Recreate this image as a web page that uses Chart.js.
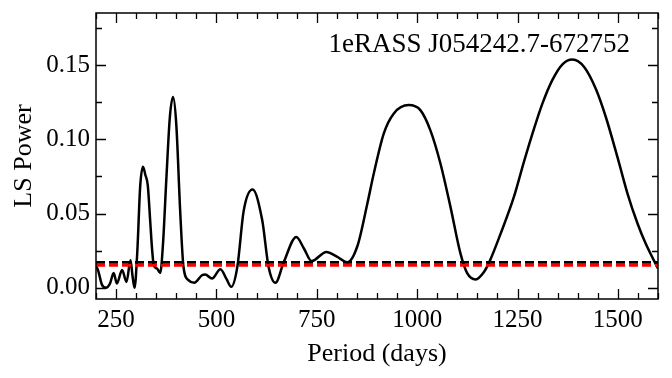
<!DOCTYPE html>
<html>
<head>
<meta charset="utf-8">
<script src="https://cdn.jsdelivr.net/npm/chart.js@4.4.1/dist/chart.umd.min.js"></script>
<style>
  html, body { margin: 0; padding: 0; background: #fff; }
  #wrap { width: 672px; height: 378px; }
</style>
</head>
<body>
<div id="wrap"><canvas id="lsChart" width="672" height="378"></canvas></div>
<script>
// periodogram
const periods = [200, 205, 215, 225, 235, 244, 252, 265, 276, 286, 291, 296, 303, 310, 317, 323, 329, 335, 340, 344,
  352, 360, 367, 375, 384, 392, 400, 410, 418, 431, 445, 464, 472, 489, 510, 525, 537, 552, 568, 590,
  614, 630, 647, 668, 699, 718, 737, 774, 800, 826, 851, 876, 892, 917, 942, 979, 1008, 1033, 1058, 1083,
  1108, 1125, 1146, 1166, 1180, 1208, 1241, 1266, 1291, 1312, 1337, 1362, 1387, 1416, 1445, 1470, 1499, 1524, 1549, 1569, 1600];
const power = [0.015, 0.012, 0.002, 0.000, 0.003, 0.010, 0.003, 0.012, 0.004, 0.0185, 0.008, 0.000, 0.025, 0.068, 0.0815, 0.076, 0.069, 0.045, 0.025, 0.015,
  0.013, 0.010, 0.030, 0.072, 0.115, 0.1285, 0.110, 0.050, 0.014, 0.005, 0.0034, 0.0085, 0.009, 0.0063, 0.0126, 0.006, 0.0007, 0.014, 0.052, 0.0662,
  0.0456, 0.014, 0.0034, 0.0175, 0.0343, 0.0265, 0.018, 0.0242, 0.021, 0.0172, 0.028, 0.0568, 0.077, 0.104, 0.1174, 0.123, 0.1196, 0.106, 0.0837, 0.0545,
  0.023, 0.0097, 0.0057, 0.0105, 0.0175, 0.0365, 0.0612, 0.0848, 0.107, 0.124, 0.140, 0.1505, 0.1537, 0.1487, 0.134, 0.115, 0.088, 0.0635, 0.0433, 0.030, 0.013];

// significance levels (dashed lines)
const levelBlack = 0.0171;
const levelRed = 0.0151;

const xRange = [200, 1600];
const yRange = [-0.0075, 0.185];
const xMajor = [250, 500, 750, 1000, 1250, 1500];
const yMajor = [0, 0.05, 0.10, 0.15];
const titleText = "1eRASS J054242.7-672752";

const serif = "'Liberation Serif', 'DejaVu Serif', serif";

// frame + inward ticks on all four sides, matplotlib style
const frameTicks = {
  id: "frameTicks",
  afterDraw(chart) {
    const ctx = chart.ctx;
    const a = chart.chartArea;
    const xs = chart.scales.x, ys = chart.scales.y;
    ctx.save();
    ctx.strokeStyle = "#000";
    ctx.lineWidth = 1.3;
    ctx.beginPath();
    for (let v = 200; v <= 1600; v += 50) {
      const px = Math.round(xs.getPixelForValue(v)) + 0.5;
      const len = v % 250 === 0 ? 10 : 6;
      ctx.moveTo(px, a.bottom); ctx.lineTo(px, a.bottom - len);
      ctx.moveTo(px, a.top); ctx.lineTo(px, a.top + len);
    }
    for (let i = 0; i <= 7; i++) {
      const v = i * 0.025;
      const py = Math.round(ys.getPixelForValue(v)) + 0.5;
      const len = i % 2 === 0 ? 10 : 6;
      ctx.moveTo(a.left, py); ctx.lineTo(a.left + len, py);
      ctx.moveTo(a.right, py); ctx.lineTo(a.right - len, py);
    }
    ctx.stroke();
    ctx.lineWidth = 1.5;
    ctx.strokeRect(a.left, a.top, a.right - a.left, a.bottom - a.top);
    // label in the upper right
    ctx.fillStyle = "#000";
    ctx.font = "27px " + serif;
    ctx.textAlign = "right";
    ctx.textBaseline = "middle";
    ctx.fillText(titleText, a.right - 28, 45);
    ctx.restore();
  }
};

const curve = periods.map((p, i) => ({ x: p, y: power[i] }));

new Chart(document.getElementById("lsChart"), {
  type: "line",
  data: {
    datasets: [
      {
        data: curve,
        borderColor: "#000",
        borderWidth: 2.5,
        pointRadius: 0,
        cubicInterpolationMode: "monotone",
        order: 3
      },
      {
        data: xRange.map(x => ({ x: x, y: levelBlack })),
        borderColor: "#000",
        borderWidth: 2.8,
        borderDash: [9, 4],
        pointRadius: 0,
        order: 2
      },
      {
        data: xRange.map(x => ({ x: x, y: levelRed })),
        borderColor: "#ff0000",
        borderWidth: 2.8,
        borderDash: [9, 4],
        pointRadius: 0,
        order: 1
      }
    ]
  },
  options: {
    responsive: false,
    animation: false,
    events: [],
    layout: { padding: { top: 13, right: 14, left: 0, bottom: 0 } },
    plugins: { legend: { display: false }, tooltip: { enabled: false } },
    scales: {
      x: {
        type: "linear",
        min: xRange[0],
        max: xRange[1],
        grid: { display: false, drawTicks: false },
        border: { display: false },
        afterBuildTicks: s => { s.ticks = xMajor.map(v => ({ value: v })); },
        afterFit: s => {
          s.height = 79;
          s.paddingLeft = 0; s.paddingRight = 0;
        },
        ticks: {
          color: "#000",
          font: { family: serif, size: 25 },
          padding: 6,
          maxRotation: 0,
          callback: v => String(v)
        },
        title: {
          display: true,
          text: "Period (days)",
          color: "#000",
          font: { family: serif, size: 26 },
          padding: { top: 0, bottom: 8 }
        }
      },
      y: {
        min: yRange[0],
        max: yRange[1],
        grid: { display: false, drawTicks: false },
        border: { display: false },
        afterBuildTicks: s => { s.ticks = yMajor.map(v => ({ value: v })); },
        afterFit: s => {
          s.width = 96;
          s.paddingTop = 0; s.paddingBottom = 0;
        },
        ticks: {
          color: "#000",
          font: { family: serif, size: 25 },
          padding: 6,
          callback: v => Number(v).toFixed(2)
        },
        title: {
          display: true,
          text: "LS Power",
          color: "#000",
          font: { family: serif, size: 26 },
          padding: { top: 9, bottom: 0 }
        }
      }
    }
  },
  plugins: [frameTicks]
});
</script>
</body>
</html>
